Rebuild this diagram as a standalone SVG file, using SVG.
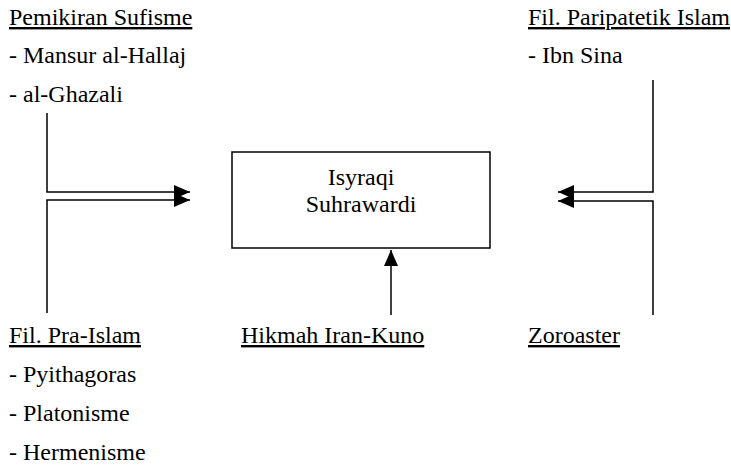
<svg xmlns="http://www.w3.org/2000/svg" width="731" height="468" viewBox="0 0 731 468" font-family="'Liberation Serif', 'Times New Roman', 'DejaVu Serif', serif">
  <style>
    text { font-family: "Liberation Serif", "Times New Roman", "DejaVu Serif", serif; font-size: 24px; fill: #000; }
    .head { text-decoration: underline; }
    .line { fill: none; stroke: #000; stroke-width: 1.5; }
    .box { fill: #fff; stroke: #000; stroke-width: 1.5; }
    .mid { text-anchor: middle; }
  </style>
  <defs>
    <marker id="arrow" viewBox="0 0 16 14" refX="16" refY="7" markerWidth="16" markerHeight="14" markerUnits="userSpaceOnUse" orient="auto">
      <path d="M0,0 L16,7 L0,14 Z" fill="#000"/>
    </marker>
  </defs>

  <!-- connectors -->
  <g id="connectors">
    <!-- Pemikiran Sufisme to the centre -->
    <path class="line" d="M47,113 V192 H190" marker-end="url(#arrow)"/>
    <!-- Fil. Pra-Islam to the centre -->
    <path class="line" d="M47,313 V200 H190" marker-end="url(#arrow)"/>
    <!-- Fil. Paripatetik Islam to the centre -->
    <path class="line" d="M653,80 V192 H558" marker-end="url(#arrow)"/>
    <!-- Zoroaster to the centre -->
    <path class="line" d="M653,315 V201 H558" marker-end="url(#arrow)"/>
    <!-- Hikmah Iran-Kuno up to the centre -->
    <path class="line" d="M391,315 V250" marker-end="url(#arrow)"/>
  </g>

  <g id="isyraqi">
    <rect class="box" x="232" y="152" width="258" height="96"/>
    <text class="mid" x="361" y="185" font-family="Liberation Serif">Isyraqi</text>
    <text class="mid" x="361" y="212" font-family="Liberation Serif">Suhrawardi</text>
  </g>

  <g id="sufisme" font-family="Liberation Serif">
    <text class="head" x="9" y="25">Pemikiran Sufisme</text>
    <text x="9" y="63">- Mansur al-Hallaj</text>
    <text x="9" y="102">- al-Ghazali</text>
  </g>

  <g id="paripatetik" font-family="Liberation Serif">
    <text class="head" x="528" y="25">Fil. Paripatetik Islam</text>
    <text x="528" y="63">- Ibn Sina</text>
  </g>

  <g id="pra-islam" font-family="Liberation Serif">
    <text class="head" x="9" y="343">Fil. Pra-Islam</text>
    <text x="9" y="382">- Pyithagoras</text>
    <text x="9" y="421">- Platonisme</text>
    <text x="9" y="460">- Hermenisme</text>
  </g>

  <g id="hikmah" font-family="Liberation Serif">
    <text class="head" x="241" y="343">Hikmah Iran-Kuno</text>
  </g>

  <g id="zoroaster" font-family="Liberation Serif">
    <text class="head" x="528" y="343">Zoroaster</text>
  </g>
</svg>
